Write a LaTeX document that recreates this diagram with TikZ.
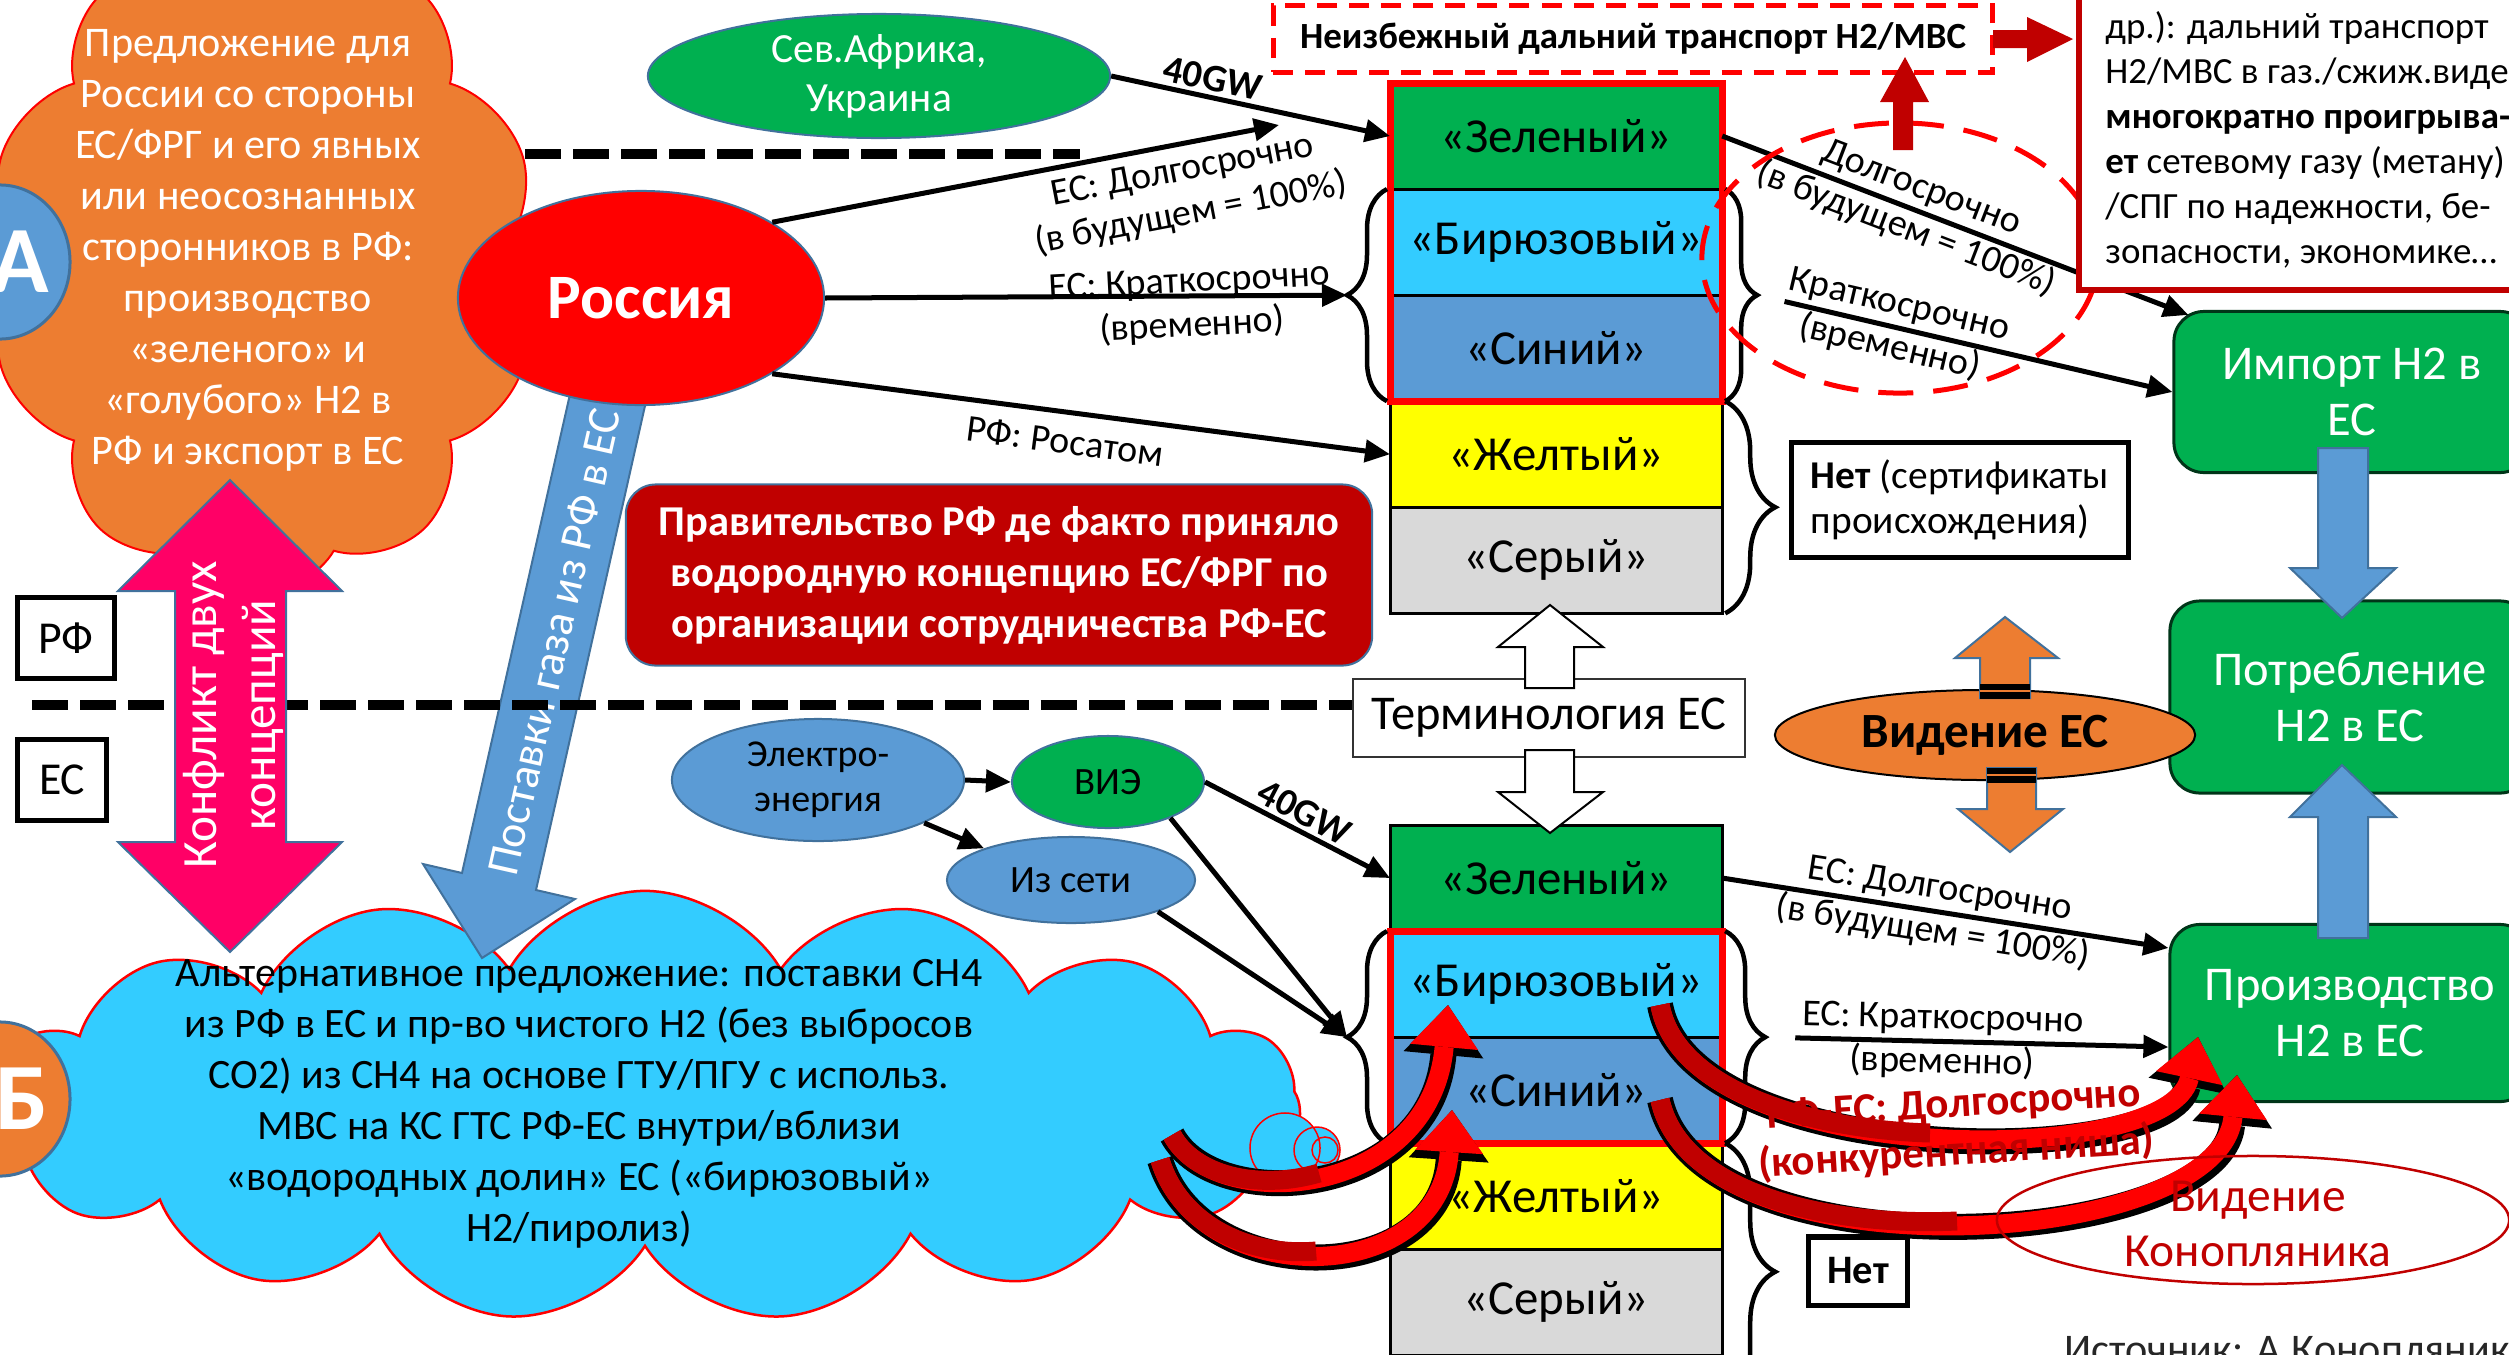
\documentclass[tikz,border=0pt]{standalone}
\usepackage{fontspec}
\setmainfont{Carlito}
\usetikzlibrary{positioning,shapes.geometric,shapes.symbols,arrows.meta,decorations.pathreplacing}

\definecolor{orng}{HTML}{ED7D31}
\definecolor{cyn}{HTML}{33CCFF}
\definecolor{mblue}{HTML}{5B9BD5}
\definecolor{grn}{HTML}{00B050}
\definecolor{drk}{HTML}{C00000}
\definecolor{pnk}{HTML}{FF0066}
\definecolor{ylw}{HTML}{FFFF00}
\definecolor{lgray}{HTML}{D9D9D9}
\definecolor{outl}{HTML}{41719C}

\tikzset{
  band/.style={draw=black, line width=0.03cm, minimum width=3.32cm, minimum height=1.06cm, inner sep=0pt, outer sep=0pt, font=\fontsize{13.9}{15}\selectfont},
  conn/.style={line width=0.05cm, -{Triangle[length=0.25cm,width=0.22cm]}},
  lbl/.style={font=\fontsize{10.8}{12.5}\selectfont, align=center, inner sep=1pt},
  brc/.style={decorate, line width=0.045cm},
  sep/.style={line width=0.1cm, dash pattern=on 0.36cm off 0.12cm},
  blob/.style={ellipse, draw=outl, line width=0.02cm, inner sep=0pt},
  gbox/.style={rectangle, rounded corners=0.3cm, draw=black!70!grn, fill=grn, line width=0.03cm, text=white, align=center, inner sep=0pt, font=\fontsize{13.8}{16}\selectfont},
  blk/.style={draw=black, line width=0.05cm, inner sep=0pt},
  letterdisc/.style={ellipse, draw=outl, line width=0.03cm, minimum width=1.4cm, minimum height=1.54cm},
  discletter/.style={text=white, font=\fontsize{27}{29}\selectfont\bfseries},
  cbk/.style={draw=black, line width=0.26cm, -{Triangle[length=0.5cm,width=0.8cm,line width=0pt]}},
  crd/.style={draw=red, line width=0.19cm, -{Triangle[length=0.42cm,width=0.68cm,line width=0pt]}},
  ctail/.style={draw=drk, line width=0.19cm},
}

\begin{document}
\begin{tikzpicture}[x=0.01cm, y=-0.01cm]
\useasboundingbox (0,0) rectangle (2509,1354);

% Draw the two clouds
\node[cloud, cloud puffs=10, cloud puff arc=120, aspect=0.85, draw=red, fill=orng, line width=0.02cm, minimum width=5.5cm, minimum height=6.6cm] (ocloud) at (262,262) {};
\node[cloud, cloud puffs=15, cloud puff arc=120, cloud ignores aspect, draw=red, fill=cyn, line width=0.025cm, minimum width=13.1cm, minimum height=4.3cm] (bcloud) at (645,1106) {};
\filldraw[draw=red, fill=cyn, line width=0.015cm] (1285,1148) circle (0.35cm) (1317,1150) circle (0.23cm) (1325,1150) circle (0.13cm);
\node[text=white, align=center, font=\fontsize{12}{14.5}\selectfont] (otext) at (248,250) {Предложение для\\России со стороны\\ЕС/ФРГ и его явных\\или неосознанных\\сторонников в РФ:\\производство\\«зеленого» и\\«голубого» H2 в\\РФ и экспорт в ЕС};
\node[align=center, font=\fontsize{11.9}{14.5}\selectfont] (btext) at (579,1104) {Альтернативное предложение: поставки CH4\\из РФ в ЕС и пр-во чистого H2 (без выбросов\\CO2) из CH4 на основе ГТУ/ПГУ с использ.\\МВС на КС ГТС РФ-ЕС внутри/вблизи\\«водородных долин» ЕС («бирюзовый»\\H2/пиролиз)};

% Markers A and B
\node[letterdisc, fill=mblue] (discA) at (0,262) {};
\node[discletter] (letA) at (20,262) {А};
\node[letterdisc, fill=orng] (discB) at (0,1099) {};
\node[discletter] (letB) at (22,1099) {Б};

% Dashed borders RF / EU
\coordinate (sepT) at (525,154);
\draw[sep] (sepT) -- ++(555,0);
\coordinate (sepL) at (32,705);

% Gas supply arrow
\filldraw[fill=mblue, draw=outl, line width=0.02cm] (649,388) -- (536,890) -- (575,899) -- (482,958) -- (423,864) -- (462,873) -- (575,372) -- cycle;
\node[rotate=77.3, text=white, font=\fontsize{13}{15}\selectfont] (gastxt) at (554,642) {Поставки газа из РФ в ЕС};

% Russia and North Africa
\node[blob, fill=red, minimum width=3.66cm, minimum height=2.14cm, text=white, font=\fontsize{18}{20}\selectfont\bfseries] (rus) at (641,298) {Россия};
\node[blob, fill=grn, minimum width=4.62cm, minimum height=1.24cm, text=white, align=center, font=\fontsize{11.8}{14}\selectfont] (afr) at (879,76) {Сев.Африка,\\Украина};

% Government box
\node[rectangle, rounded corners=0.3cm, fill=drk, draw=outl, line width=0.02cm, minimum width=7.46cm, minimum height=1.81cm, text=white, align=center, font=\fontsize{12.1}{14.5}\selectfont\bfseries] (gov) at (999,575) {Правительство РФ де факто приняло\\водородную концепцию ЕС/ФРГ по\\организации сотрудничества РФ-ЕС};

% RF / EU labels
\node[blk, minimum width=0.97cm, minimum height=0.8cm, font=\fontsize{13}{14}\selectfont] (rfbox) at (66,638) {РФ};
\node[blk, minimum width=0.88cm, minimum height=0.8cm, font=\fontsize{13}{14}\selectfont] (esbox) at (62,780) {ЕС};

% Terminology box
\node[draw=black!80, line width=0.02cm, minimum width=3.91cm, minimum height=0.78cm, fill=white, font=\fontsize{13.8}{15}\selectfont] (term) at (1549,718) {Терминология ЕС};
\draw[sep] (sepL) -- (sepL -| term.west);

% Conflict arrow
\filldraw[fill=pnk, draw=outl, line width=0.02cm] (230,480) -- (342,591) -- (286,591) -- (286,842) -- (342,842) -- (230,952) -- (118,842) -- (175,842) -- (175,591) -- (118,591) -- cycle;
\node[rotate=90, text=white, align=center, font=\fontsize{14}{16.8}\selectfont] (conftxt) at (233,715) {Конфликт двух\\концепций};

% Electricity sources
\node[blob, fill=mblue, minimum width=2.92cm, minimum height=1.22cm, align=center, font=\fontsize{10.8}{12.8}\selectfont] (elec) at (818,780) {Электро-\\энергия};
\node[blob, fill=grn, minimum width=1.92cm, minimum height=0.92cm, font=\fontsize{11}{12}\selectfont] (vie) at (1108,782) {ВИЭ};
\node[blob, fill=mblue, minimum width=2.48cm, minimum height=0.86cm, font=\fontsize{11}{12}\selectfont] (grid) at (1071,880) {Из сети};

% Upper stack
\node[band, fill=grn, anchor=north west] (green1) at (1390,83) {«Зеленый»};
\node[band, fill=cyn, below=0pt of green1] (turq1) {«Бирюзовый»};
\node[band, fill=mblue, below=0pt of turq1] (blue1) {«Синий»};
\node[band, fill=ylw, below=0pt of blue1] (yellow1) {«Желтый»};
\node[band, fill=lgray, below=0pt of yellow1] (grey1) {«Серый»};
\draw[red, line width=0.07cm] (green1.north west) rectangle (blue1.south east);

% Lower stack
\node[band, fill=grn, anchor=north west] (green2) at (1390,825) {«Зеленый»};
\node[band, fill=cyn, below=0pt of green2] (turq2) {«Бирюзовый»};
\node[band, fill=mblue, below=0pt of turq2] (blue2) {«Синий»};
\node[band, fill=ylw, below=0pt of blue2] (yellow2) {«Желтый»};
\node[band, fill=lgray, below=0pt of yellow2] (grey2) {«Серый»};
\draw[red, line width=0.07cm] (turq2.north west) rectangle (blue2.south east);

% Braces
\draw[brc, decoration={brace, amplitude=0.4cm}] ([xshift=-0.03cm]blue1.south west) -- ([xshift=-0.03cm]turq1.north west);
\draw[brc, decoration={brace, amplitude=0.32cm}] ([xshift=0.03cm]turq1.north east) -- ([xshift=0.03cm]blue1.south east);
\draw[brc, decoration={brace, amplitude=0.5cm}] ([xshift=0.03cm]yellow1.north east) -- ([xshift=0.03cm]grey1.south east);
\draw[brc, decoration={brace, amplitude=0.4cm}] ([xshift=-0.03cm]blue2.south west) -- ([xshift=-0.03cm]turq2.north west);
\draw[brc, decoration={brace, amplitude=0.4cm}] ([xshift=0.03cm]turq2.north east) -- ([xshift=0.03cm]blue2.south east);
\draw[brc, decoration={brace, amplitude=0.5cm}] ([xshift=0.03cm]yellow2.north east) -- ([xshift=0.03cm,yshift=-0.45cm]grey2.south east);
\coordinate (tipL1) at ([xshift=-0.43cm]turq1.south west);
\coordinate (tipR1) at ([xshift=0.35cm]turq1.south east);
\coordinate (tipL2) at ([xshift=-0.43cm]turq2.south west);
\coordinate (tipR2) at ([xshift=0.43cm]turq2.south east);
\coordinate (longend) at (1279,125);

\node[blk, minimum width=3.36cm, minimum height=1.14cm, align=left, font=\fontsize{11.2}{12.8}\selectfont] (net1) at (1960,500) {\textbf{Нет} (сертификаты\\происхождения)};
\node[blk, minimum width=0.98cm, minimum height=0.68cm, font=\fontsize{11.5}{13}\selectfont\bfseries] (net2) at (1858,1271) {Нет};

% Right column
\node[gbox, minimum width=3.56cm, minimum height=1.61cm] (imp) at (2352,392) {Импорт H2 в\\ЕС};
\node[gbox, minimum width=3.6cm, minimum height=1.92cm] (cons) at (2350,697) {Потребление\\H2 в ЕС};
\node[gbox, minimum width=3.6cm, minimum height=1.77cm] (prod) at (2350,1013) {Производство\\H2 в ЕС};
\filldraw[fill=mblue, draw=outl, line width=0.02cm] (2318,448) -- (2368,448) -- (2368,568) -- (2396,568) -- (2342,618) -- (2290,568) -- (2318,568) -- cycle;
\filldraw[fill=mblue, draw=outl, line width=0.02cm] (2318,938) -- (2368,938) -- (2368,817) -- (2396,817) -- (2342,765) -- (2290,817) -- (2318,817) -- cycle;

% Connectors of the upper part
\draw[conn] (afr.east) -- node[lbl, sloped, above, pos=0.35, font=\fontsize{11}{12}\selectfont\bfseries] (gw1) {40GW} (green1.west);
\draw[conn] (rus.30) -- node[lbl, sloped, below=0.06cm, pos=0.8] (longlbl1) {ЕС: Долгосрочно\\(в будущем = 100\%)} (longend);
\draw[conn] (rus.east) -- node[lbl, pos=0.7, rotate=3, yshift=-0.09cm] (shortlbl1) {ЕС: Краткосрочно\\(временно)} (tipL1);
\draw[conn] (rus.-30) -- node[lbl, sloped, below=0.1cm, pos=0.48] (rosatom) {РФ: Росатом} (yellow1.west);
\draw[conn] (green1.east) -- node[lbl, sloped, pos=0.41] (longlbl2) {Долгосрочно\\(в будущем = 100\%)} ([xshift=0.16cm,yshift=-0.05cm]imp.north west);
\draw[conn, shorten <=0.28cm] (tipR1) -- node[lbl, sloped, pos=0.33] (shortlbl2) {Краткосрочно\\(временно)} (imp.west);
\node[ellipse, draw=red, line width=0.05cm, dash pattern=on 0.35cm off 0.2cm, minimum width=3.96cm, minimum height=2.7cm] (ring) at (1900,258) {};

% Connectors of the lower part
\draw[conn] (elec.east) -- (vie.west);
\draw[conn] (elec.-22) -- (grid.160);
\draw[conn] (vie.east) -- node[lbl, sloped, above, pos=0.49, font=\fontsize{11}{12}\selectfont\bfseries] (gw2) {40GW} (green2.west);
\draw[conn] (vie.-30) -- (tipL2);
\draw[conn] (grid.-20) -- (tipL2);
\draw[conn] (green2.east) -- node[lbl, sloped, pos=0.48] (longlbl3) {ЕС: Долгосрочно\\(в будущем = 100\%)} ([yshift=-0.25cm]prod.north west);
\draw[conn, shorten <=0.3cm] (tipR2) -- node[lbl, sloped, pos=0.44] (shortlbl3) {ЕС: Краткосрочно\\(временно)} ([yshift=-0.34cm]prod.west);

% Terminology arrows
\filldraw[fill=white, draw=black, line width=0.02cm] (1525,688) -- (1574,688) -- (1574,647) -- (1603,647) -- (1550,605) -- (1498,647) -- (1525,647) -- cycle;
\filldraw[fill=white, draw=black, line width=0.02cm] (1525,750) -- (1574,750) -- (1574,792) -- (1603,792) -- (1550,833) -- (1498,792) -- (1525,792) -- cycle;

% EU vision
\node[ellipse, fill=orng, draw=black, line width=0.02cm, minimum width=4.2cm, minimum height=0.9cm, inner sep=0pt, font=\fontsize{14}{15}\selectfont\bfseries] (vision) at (1985,735) {Видение ЕС};
\filldraw[fill=orng, draw=outl, line width=0.02cm] (1980,698) -- (2030,698) -- (2030,658) -- (2058,658) -- (2005,617) -- (1955,658) -- (1980,658) -- cycle;
\filldraw[fill=orng, draw=outl, line width=0.02cm] (1987,768) -- (2036,768) -- (2036,809) -- (2063,809) -- (2010,852) -- (1958,809) -- (1987,809) -- cycle;
\fill (1980,684) rectangle (2030,699);
\fill (1987,768) rectangle (2036,783);
\draw[orng, line width=0.025cm] (1980,691) -- (2030,691) (1987,775) -- (2036,775);

% Unavoidable transport and the note
\node[draw=red, line width=0.05cm, dash pattern=on 0.2cm off 0.12cm, minimum width=7.19cm, minimum height=0.66cm, font=\fontsize{10.5}{12}\selectfont\bfseries] (inevit) at (1633,39) {Неизбежный дальний транспорт H2/МВС};
\node[draw=drk, line width=0.06cm, fill=white, minimum width=4.6cm, minimum height=3.0cm, anchor=north west] (note) at (2076,-13) {};
\node[align=left, anchor=west, font=\fontsize{10.5}{12.8}\selectfont] (notetxt) at ([xshift=0.17cm]note.west) {др.): дальний транспорт\\H2/МВС в газ./сжиж.виде\\\textbf{многократно проигрыва-}\\\textbf{ет} сетевому газу (метану)\\/СПГ по надежности, бе-\\зопасности, экономике…};
\fill[drk] (1993,30) -- (2027,30) -- (2027,17) -- (2073,39) -- (2027,62) -- (2027,48) -- (1993,48) -- cycle;
\fill[drk] (1893,150) -- (1913,150) -- (1913,102) -- (1929,102) -- (1905,57) -- (1880,102) -- (1893,102) -- cycle;

% Curved arrows of the competitive niche
\coordinate (cA1) at (1172,1135);
\coordinate (cA2) at (1448,1005);
\coordinate (cB1) at (1160,1160);
\coordinate (cB2) at (1452,1110);
\coordinate (cC1) at (1660,1005);
\coordinate (cC2) at (2198,1037);
\coordinate (cD1) at (1660,1100);
\coordinate (cD2) at (2237,1075);
\draw[cbk] (cA1) .. controls (1215,1215) and (1430,1200) .. (cA2);
\draw[crd] (cA1) .. controls (1215,1215) and (1430,1200) .. (cA2);
\draw[ctail] (cA1) .. controls (1193,1175) and (1258,1191) .. (1319,1173);
\draw[cbk] (cB1) .. controls (1200,1290) and (1440,1290) .. (cB2);
\draw[crd] (cB1) .. controls (1200,1290) and (1440,1290) .. (cB2);
\draw[ctail] (cB1) .. controls (1180,1225) and (1250,1257) .. (1316,1251);
\draw[cbk] (cC1) .. controls (1690,1170) and (2170,1170) .. (cC2);
\draw[crd] (cC1) .. controls (1690,1170) and (2170,1170) .. (cC2);
\draw[ctail] (cC1) .. controls (1675,1087) and (1802,1129) .. (1930,1133);
\draw[cbk] (cD1) .. controls (1700,1280) and (2220,1250) .. (cD2);
\draw[crd] (cD1) .. controls (1700,1280) and (2220,1250) .. (cD2);
\draw[ctail] (cD1) .. controls (1680,1190) and (1820,1227) .. (1957,1221);
\node[rotate=3.5, text=drk, align=center, font=\fontsize{12.2}{13.7}\selectfont\bfseries] (niche) at (1955,1130) {РФ-ЕС: Долгосрочно\\(конкурентная ниша)};

% Konoplyannik vision and source
\node[ellipse, draw=drk, line width=0.025cm, minimum width=5.12cm, minimum height=1.28cm] (konop) at (2253,1220) {};
\node[text=drk, align=center, font=\fontsize{13.5}{15.6}\selectfont] (konoptxt) at (2258,1224) {Видение\\Конопляника};
\node[anchor=base, text=black!85, font=\fontsize{12}{13}\selectfont] (src) at (2287,1363) {Источник: А.Конопляник};
\end{tikzpicture}
\end{document}
